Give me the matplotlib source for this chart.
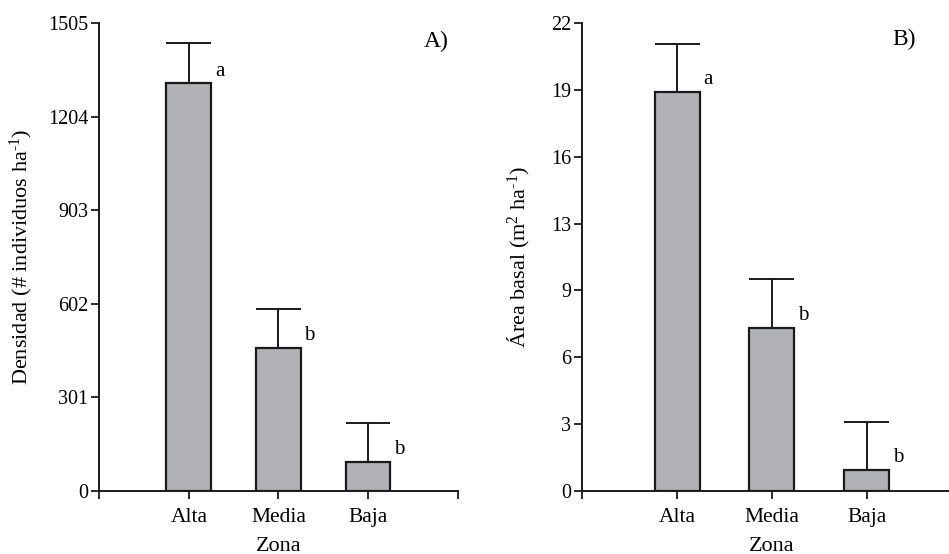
"""
Densidad y área basal por zona (barras con error estándar superior).
"""

import matplotlib.pyplot as plt
import numpy as np

plt.rcParams['font.family'] = ['Liberation Serif', 'DejaVu Serif']
plt.rcParams['mathtext.fontset'] = 'custom'
plt.rcParams['mathtext.rm'] = 'Liberation Serif'
plt.rcParams['mathtext.it'] = 'Liberation Serif:italic'

# Datos
zonas = ["Alta", "Media", "Baja"]

densidad = [1311, 461, 94]
densidad_err = [130, 125, 126]
densidad_letras = ["a", "b", "b"]
densidad_ticks = [0, 301, 602, 903, 1204, 1505]
densidad_tick_labels = ["0", "301", "602", "903", "1204", "1505"]

area = [18.77, 7.68, 0.99]
area_err = [2.23, 2.30, 2.24]
area_letras = ["a", "b", "b"]
area_ticks = [0, 3.14, 6.29, 9.43, 12.57, 15.71, 18.86, 22]
area_tick_labels = ["0", "3", "6", "9", "13", "16", "19", "22"]

GRAY = "#b1b2b6"
EDGE = "#1a1a1a"


def panel(ax, values, errors, letters, ticks, ticklabels, ylabel, tag, tag_xy,
          width, ylabel_x):
    x = np.arange(len(zonas))
    values = np.array(values)
    upper = values + np.array(errors)

    ax.vlines(x, values, upper, color=EDGE, linewidth=1.4, zorder=1)
    ax.hlines(upper, x - width / 2, x + width / 2, color=EDGE, linewidth=1.4, zorder=1)
    ax.bar(x, values, width=width, color=GRAY, edgecolor=EDGE, linewidth=1.6, zorder=2)

    for xi, v, l in zip(x, values, letters):
        ax.annotate(l, (xi, v), xytext=(31, 12), textcoords='offset pixels',
                    ha='center', va='center', fontsize=15)

    ax.set_xlim(-1, 3)
    ax.set_ylim(ticks[0], ticks[-1])
    ax.set_xticks([-1, 0, 1, 2, 3])
    ax.set_xticklabels([""] + zonas + [""], fontsize=15.5)
    ax.set_yticks(ticks)
    ax.set_yticklabels(ticklabels, fontsize=14.5)

    ax.spines['top'].set_visible(False)
    ax.spines['right'].set_visible(False)
    for s in ['left', 'bottom']:
        ax.spines[s].set_linewidth(1.4)
        ax.spines[s].set_color(EDGE)
    ax.tick_params(axis='both', direction='out', length=5.5, width=1.3, color=EDGE)
    ax.tick_params(axis='y', pad=2.5)
    ax.tick_params(axis='x', pad=7)

    ax.set_ylabel(ylabel, fontsize=16, va='center')
    ax.yaxis.set_label_coords(ylabel_x, 0.5)
    ax.set_xlabel("Zona", fontsize=16, va='center')
    ax.xaxis.set_label_coords(0.5, -0.1175)

    ax.text(tag_xy[0], tag_xy[1], tag, transform=ax.transAxes, fontsize=17,
            ha='center', va='center')


fig = plt.figure(figsize=(9.49, 5.54), dpi=100)
ax1 = fig.add_axes([0.1046, 0.1137, 0.3777, 0.8448])
ax2 = fig.add_axes([0.6136, 0.1137, 0.3997, 0.8448])

panel(ax1, densidad, densidad_err, densidad_letras, densidad_ticks,
      densidad_tick_labels, r"Densidad (# individuos ha$^{\text{-1}}$)", "A)",
      (0.939, 0.960), 0.5, -0.216)
panel(ax2, area, area_err, area_letras, area_ticks, area_tick_labels,
      r"Área basal (m$^{\text{2}}$ ha$^{\text{-1}}$)", "B)", (0.848, 0.964), 0.475, -0.166)

fig.savefig("out.png", dpi=100)
plt.close(fig)
